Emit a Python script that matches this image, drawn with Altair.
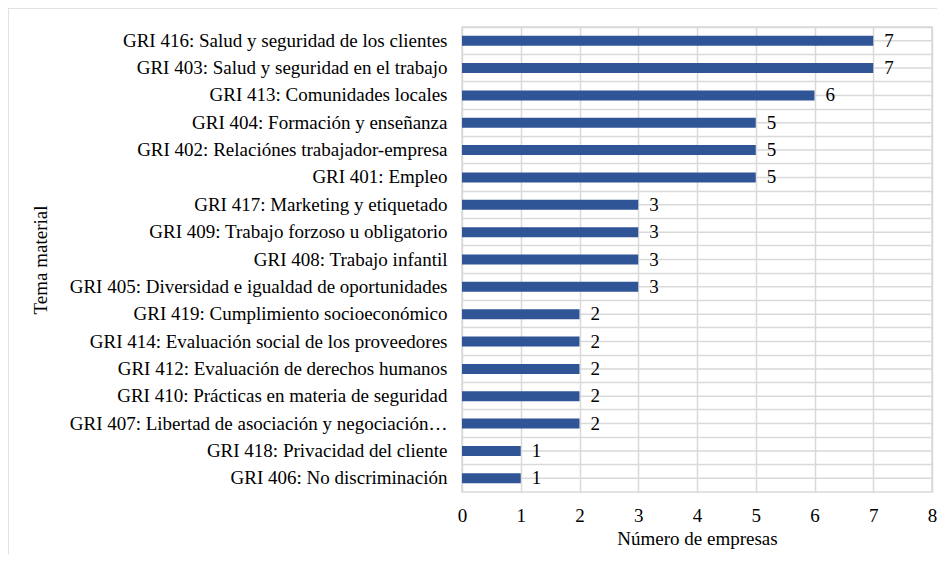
import altair as alt
import pandas as pd

temas = [
    "GRI 416: Salud y seguridad de los clientes",
    "GRI 403: Salud y seguridad en el trabajo",
    "GRI 413: Comunidades locales\u00a0",
    "GRI 404: Formación y enseñanza",
    "GRI 402: Relaciónes trabajador-empresa\u00a0",
    "GRI 401: Empleo\u00a0",
    "GRI 417: Marketing y etiquetado",
    "GRI 409: Trabajo forzoso u obligatorio\u00a0",
    "GRI 408: Trabajo infantil",
    "GRI 405: Diversidad e igualdad de oportunidades\u00a0",
    "GRI 419: Cumplimiento socioeconómico",
    "GRI 414: Evaluación social de los proveedores\u00a0",
    "GRI 412: Evaluación de derechos humanos",
    "GRI 410: Prácticas en materia de seguridad\u00a0",
    "GRI 407: Libertad de asociación y negociación…",
    "GRI 418: Privacidad del cliente",
    "GRI 406: No discriminación\u00a0",
]
empresas = [7, 7, 6, 5, 5, 5, 3, 3, 3, 3, 2, 2, 2, 2, 2, 1, 1]

df = pd.DataFrame({"tema": temas, "n": empresas})

FONT = "'Liberation Serif', 'Times New Roman', serif"
FS = 19
W, H = 470, 465
BLUE = "#2F5597"
GRID = "#D9D9D9"

ysc = alt.Scale(domain=temas, paddingInner=0.0, paddingOuter=0.0)

y_enc = alt.Y(
    "tema:N",
    sort=None,
    scale=ysc,
    axis=alt.Axis(
        title="Tema material",
        titleFont=FONT,
        titleFontSize=FS,
        titleFontWeight="normal",
        titleColor="#000000",
        titleAngle=-90,
        titleX=-422,
        titleY=H / 2,
        titleAlign="center",
        titleBaseline="middle",
        labelFont=FONT,
        labelFontSize=FS,
        labelColor="#000000",
        labelPadding=15,
        labelLimit=500,
        labelOverlap=False,
        ticks=False,
        domain=False,
        grid=True,
        gridColor=GRID,
        gridWidth=1.5,
        bandPosition=0,
    ),
)

x_enc = alt.X(
    "n:Q",
    scale=alt.Scale(domain=[0, 8], nice=False),
    axis=alt.Axis(
        title="Número de empresas",
        titleFont=FONT,
        titleFontSize=FS,
        titleFontWeight="normal",
        titleColor="#000000",
        titlePadding=4,
        labelFont=FONT,
        labelFontSize=FS,
        labelColor="#000000",
        labelPadding=14,
        labelOverlap=False,
        labelFlush=False,
        values=list(range(0, 9)),
        format="d",
        ticks=False,
        domain=False,
        grid=True,
        gridColor=GRID,
        gridWidth=1.5,
    ),
)

frame = alt.Chart(pd.DataFrame({"a": [0]})).mark_rect(
    fill=None, stroke="#D9D9D9", strokeWidth=1.5
).encode(
    x=alt.value(-454),
    x2=alt.value(W + 40),
    y=alt.value(-19),
    y2=alt.value(H + 100),
)

center_rules = alt.Chart(df).mark_rule(color=GRID, strokeWidth=1.5).encode(
    y=alt.Y("tema:N", sort=None, scale=ysc),
    x=alt.value(0),
    x2=alt.value(W),
)

bars = alt.Chart(df).mark_bar(color=BLUE, size=10).encode(
    y=y_enc,
    x=x_enc,
)

labels = alt.Chart(df).mark_text(
    align="left", baseline="middle", dx=11, font=FONT, fontSize=FS, color="#000000"
).encode(
    y=alt.Y("tema:N", sort=None, scale=ysc),
    x=alt.X("n:Q"),
    text="n:Q",
)

chart = (
    alt.layer(frame, center_rules, bars, labels)
    .properties(
        width=W,
        height=H,
        autosize=alt.AutoSizeParams(type="none"),
        padding={"left": 454, "top": 19, "right": 5, "bottom": 62},
    )
    .configure(font=FONT)
    .configure_view(stroke=GRID, strokeWidth=1.5)
)

chart.save("out.html", embed_options={"renderer": "svg", "actions": False})
